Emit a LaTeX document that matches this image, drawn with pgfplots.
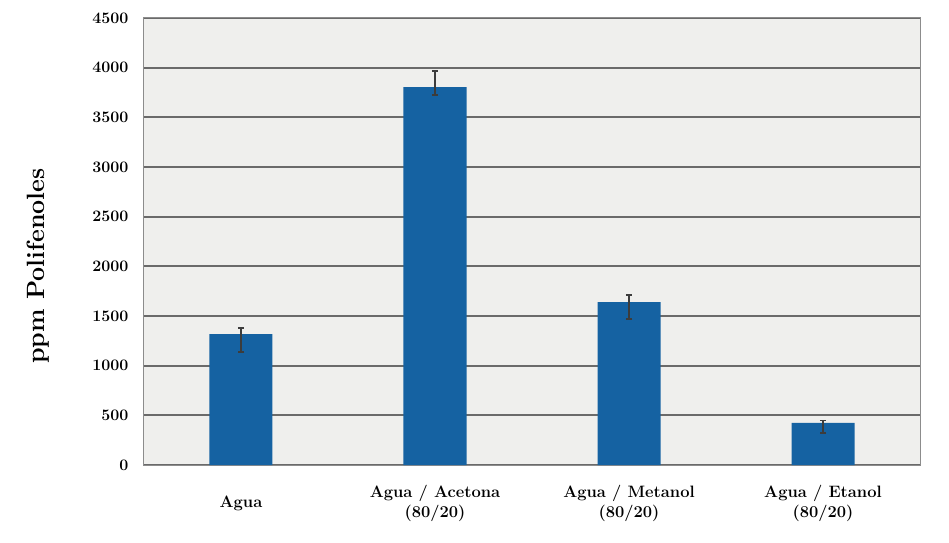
\documentclass[border=0pt]{standalone}
\usepackage{pgfplots}
\pgfplotsset{compat=1.18}
\definecolor{barblue}{HTML}{1562A2}
\definecolor{bg}{HTML}{EFEFED}
\definecolor{gridc}{HTML}{6A6A6A}
\definecolor{errc}{HTML}{3C3C3C}
\definecolor{framec}{HTML}{8C8C8C}
\begin{document}
\begin{tikzpicture}
\path[use as bounding box] (-144bp,-78bp) rectangle (805bp,465bp);
\begin{axis}[
  scale only axis, width=776bp, height=447bp,
  xmin=-0.5, xmax=3.5, ymin=0, ymax=4500,
  ytick={0,500,...,4500},
  xtick={0,1,2,3},
  xticklabels={Agua, {Agua / Acetona\\(80/20)}, {Agua / Metanol\\(80/20)}, {Agua / Etanol\\(80/20)}},
  xticklabel style={align=center, anchor=center, yshift=-38.5bp, font=\fontsize{16.5bp}{19.5bp}\selectfont\bfseries},
  yticklabel style={font=\fontsize{16bp}{19bp}\selectfont\bfseries, xshift=-12bp},
  /pgf/number format/assume math mode=true,
  /pgf/number format/1000 sep={},
  scaled y ticks=false,
  major tick length=0pt,
  ymajorgrids,
  major grid style={gridc, line width=2bp},
  axis line style={framec, line width=1bp},
  axis background/.style={fill=bg},
  ylabel={ppm Polifenoles},
  ylabel style={at={(axis description cs:-0.1366,0.445)}, anchor=center, font=\fontsize{25bp}{30bp}\selectfont\bfseries},
  ybar, bar width=63bp,
]
\addplot[fill=barblue, draw=none,
  error bars/.cd, y dir=both, y explicit,
  error bar style={errc, line width=1.6bp},
  error mark options={errc, rotate=90, mark size=3.2bp, line width=1.6bp}]
  coordinates {
  (0,1318) += (0,63) -= (0,178)
  (1,3803) += (0,164) -= (0,78)
  (2,1640) += (0,73) -= (0,168)
  (3,423) += (0,23) -= (0,98)
  };
\end{axis}
\end{tikzpicture}
\end{document}
